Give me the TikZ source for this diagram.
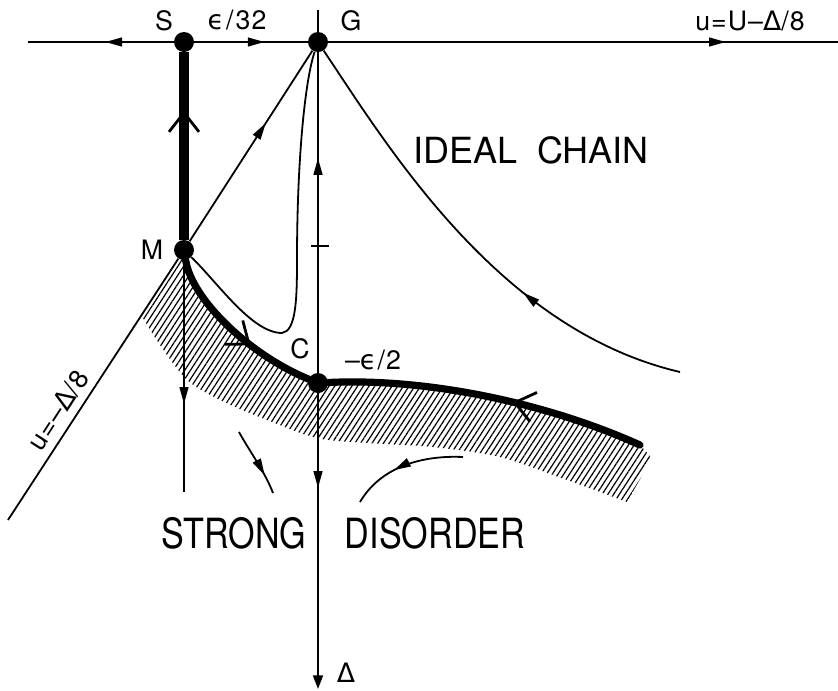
\documentclass[tikz,border=0pt]{standalone}
\usepackage{fontspec}
\setmainfont{TeX Gyre Heros}
\newfontfamily\lblfont[LetterSpace=4]{TeX Gyre Heros}
\newfontfamily\grk[LetterSpace=4]{DejaVu Sans}
\newfontfamily\narrowsans[FakeStretch=0.82]{TeX Gyre Heros}
\usetikzlibrary{arrows.meta,decorations.markings,patterns.meta}

\begin{document}
\begin{tikzpicture}[
    x=0.25mm, y=-0.25mm,
    flow/.style={line width=0.45mm},
    heavy/.style={line width=2.3mm},
    heavycurve/.style={line width=1.8mm, line cap=round},
    dot/.style={circle, fill, inner sep=0pt, minimum size=5mm},
    lbl/.style={font=\lblfont\fontsize{19}{22}\selectfont, inner sep=0pt},
    region/.style={font=\fontsize{25.6}{30}\selectfont, inner sep=0pt},
    phase/.style={font=\narrowsans\fontsize{29.6}{34}\selectfont, inner sep=0pt},
    hatch/.style={pattern={Lines[angle=57,distance=1.2mm,line width=0.3mm]}},
    midarrow/.style={postaction={decorate}, decoration={markings,
        mark=at position #1 with {\arrow{Triangle[length=4.2mm,width=2.2mm]}}}},
    chevron/.style={postaction={decorate}, decoration={markings,
        mark=at position #1 with {\arrow{Straight Barb[length=4.8mm,width=7.5mm,line width=0.7mm]}}}}
]
\useasboundingbox (0,0) rectangle (838,690);

\node[dot] (S) at (184,42) {};
\node[dot] (G) at (318,42) {};
\node[dot] (M) at (184,250) {};
\node[dot] (C) at (318,383) {};
\coordinate (E) at (640,445);
\coordinate (F) at (680,372);
\coordinate (axL) at (28,42);
\coordinate (axR) at (838,42);
\coordinate (axT) at (318,10);
\coordinate (axB) at (318,689);
\coordinate (tickL) at (311,246);
\coordinate (tickR) at (329,246);
\coordinate (lowM) at (184,492);
\coordinate (uEnd) at (8,520);
\coordinate (loopBot) at (282,333);
\coordinate (loopR) at (297,260);
\coordinate (flowA) at (239,432);
\coordinate (flowB) at (273,493);
\coordinate (flowC) at (463,457);
\coordinate (flowD) at (360,502);

\fill[hatch] (M.center) .. controls (192,300) and (250,355) .. (C.center)
    .. controls (420,378) and (540,400) .. (E) -- (652,458)
    -- plot[smooth] coordinates {(627,502) (567,480) (500,457) (433,447) (367,443)
        (317,438) (267,420) (220,400) (187,380) (160,345) (143,318)} -- cycle;

\draw[flow, midarrow=0.47] (S) -- (axL);
\draw[flow, midarrow=0.62] (S) -- (G);
\draw[flow, midarrow=0.78] (G) -- (axR);
\draw[flow] (G) -- (axT);
\draw[flow, midarrow=0.67] (C) -- (G);
\draw[flow] (tickL) -- (tickR);
\draw[flow, midarrow=0.32, -{Triangle[length=3.4mm,width=2.5mm]}] (C) -- (axB);
\draw[flow, midarrow=0.62] (M) -- (lowM);
\draw[flow] (M) -- (uEnd);
\draw[flow, midarrow=0.62] (M) -- (G);
\draw[flow] (M) .. controls (218,283) and (252,333) .. (loopBot)
    .. controls (296,331) and (297,300) .. (loopR)
    .. controls (297,160) and (305,80) .. (G);
\draw[flow, midarrow=0.36] (F) .. controls (500,330) and (390,150) .. (G);
\draw[flow, midarrow=0.72] (flowA) .. controls (250,452) and (265,472) .. (flowB);
\draw[flow, midarrow=0.6] (flowC) .. controls (420,455) and (380,468) .. (flowD);

\draw[heavy, chevron=0.69] (M) -- (S);
\draw[heavycurve, chevron=0.62] (M) .. controls (192,300) and (250,355) .. (C);
\draw[heavycurve, chevron=0.42] (E) .. controls (540,400) and (420,378) .. (C);

\node[lbl] (lblS) at (164,21) {S};
\node[lbl] (lblEps) at (237,20) {{\grk ϵ}\kern0.08em/\kern0.08em32};
\node[lbl] (lblG) at (351,21) {G};
\node[lbl] (lblU) at (750,21) {u=U–{\grk Δ}/8};
\node[lbl] (lblM) at (152,250) {M};
\node[lbl] (lblC) at (300,349) {C};
\node[lbl] (lblCv) at (373,360) {–{\grk ϵ}\kern0.05em/2};
\node[lbl] (lblDelta) at (346,673) {\grk Δ};
\node[lbl, rotate=57.2] (lblLine) at (58,410) {u=–{\grk Δ}/8};
\node[region] (ideal) at (531,150) {IDEAL\hspace{0.55em}CHAIN};
\node[phase] (strong) at (234,533) {STRONG};
\node[phase] (disorder) at (435,533) {DISORDER};
\end{tikzpicture}
\end{document}
